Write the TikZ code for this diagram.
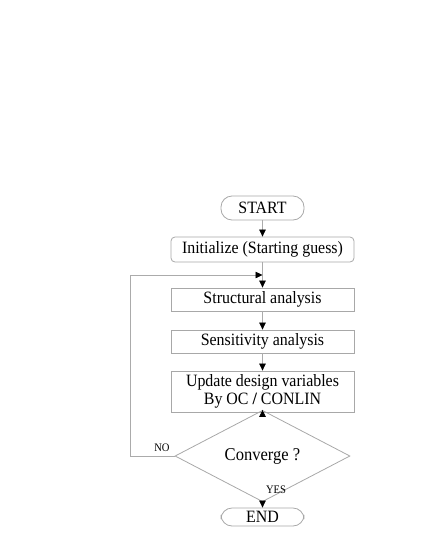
\documentclass[tikz,border=0pt]{standalone}
\usepackage{fontspec}
\setmainfont[FakeStretch=0.92]{Liberation Serif}
\usetikzlibrary{arrows.meta,shapes.geometric}
\definecolor{boxgray}{HTML}{A8A8A8}
\definecolor{linegray}{HTML}{ABABAB}
\begin{document}
\begin{tikzpicture}[x=1pt,y=-1pt,
  font=\fontsize{17.3}{18}\selectfont,
  procbox/.style={draw=boxgray,line width=0.8pt,minimum width=183pt,inner sep=0pt,align=center},
  termbox/.style={draw=boxgray,line width=0.8pt,rounded corners=11pt,minimum width=83pt,inner sep=0pt},
  decbox/.style={draw=boxgray,line width=0.8pt,diamond,minimum width=175pt,minimum height=52pt,inner sep=0pt,font=\fontsize{18}{20}\selectfont},
  flow/.style={draw=linegray,line width=0.7pt,-{Triangle[width=6.5pt,length=7pt,color=black]}},
  plain/.style={draw=linegray,line width=0.7pt},
  small/.style={font=\fontsize{11.5}{13}\selectfont}]
\useasboundingbox (0,0) rectangle (425,550);
\node[termbox,minimum height=24pt] (start) at (262.5,208) {START};
\node[procbox,rounded corners=4pt,minimum height=25pt] (init) at (262.5,249.5) {Initialize (Starting guess)};
\node[procbox,minimum height=23pt] (struct) at (262.5,299.5) {Structural analysis};
\node[procbox,minimum height=23pt] (sens) at (262.5,341.5) {Sensitivity analysis};
\node[procbox,minimum height=41pt] (upd) at (262.5,391.5) {Update design variables\\By OC {\bfseries /} CONLIN};
\node[decbox] (conv) at (262.5,456) {Converge ?};
\node[termbox,minimum height=18pt] (end) at (262.5,517) {END};
\coordinate (loopA) at (130,456);
\coordinate (loopB) at (130,275);
\coordinate (loopC) at (262.5,275);
\draw[flow] (start) -- (init);
\draw[flow] (init) -- (struct);
\draw[flow] (struct) -- (sens);
\draw[flow] (sens) -- (upd);
\draw[flow] (upd) -- (conv);
\draw[flow] (conv) -- (end);
\draw[plain] (conv.west) -- (loopA) -- (loopB);
\draw[flow] (loopB) -- (loopC);
\node[small] (no) at (162,448) {NO};
\node[small] (yes) at (276,490) {YES};
\end{tikzpicture}
\end{document}
